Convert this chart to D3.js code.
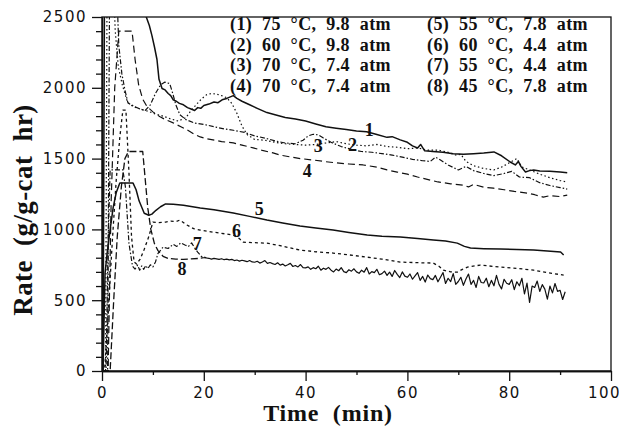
<!DOCTYPE html>
<html>
<head>
<meta charset="utf-8">
<script src="https://cdn.jsdelivr.net/npm/d3@7"></script>
<style>
  html, body { margin: 0; padding: 0; background: #fff; overflow: hidden; }
  svg { display: block; }
  .tick text { font-family: "DejaVu Sans", sans-serif; font-size: 15px; letter-spacing: 1.5px; fill: #111; }
  .tick line, .domain { stroke: #111; stroke-width: 1.3; }
  .serif { font-family: "Liberation Serif", "Times New Roman", serif; font-weight: 700; fill: #111; }
</style>
</head>
<body>
<svg id="chart"></svg>
<script>

/*************************************/
/*              Data                 */
/*************************************/
const xTicks = [0, 20, 40, 60, 80, 100];
const yTicks = [0, 500, 1000, 1500, 2000, 2500];

const legendLabels = [
  "(1)  75  °C,  9.8  atm", "(2)  60  °C,  9.8  atm",
  "(3)  70  °C,  7.4  atm", "(4)  70  °C,  7.4  atm",
  "(5)  55  °C,  7.8  atm", "(6)  60  °C,  4.4  atm",
  "(7)  55  °C,  4.4  atm", "(8)  45  °C,  7.8  atm"
];

// [time (min), rate]
const curve1 = [[0,0],[0.2,0],[0.5,2800],[8.2,2800],[8.7,2500],[9.3,2440],[9.8,2370],[10.3,2290],[10.8,2200],[11.2,2060],[11.8,1995],[12.4,1985],[13,1960],[13.5,1945],[14,1915],[14.6,1905],[15.2,1890],[16,1880],[16.8,1860],[17.5,1850],[18.2,1840],[18.8,1860],[19.4,1855],[20,1875],[21,1885],[22,1900],[22.8,1895],[23.6,1915],[24.5,1925],[25.8,1945],[26.5,1925],[27.5,1905],[29,1880],[30.5,1855],[32.4,1825],[34,1810],[36,1790],[38,1780],[40,1765],[42,1745],[44,1725],[46,1715],[48,1705],[50,1695],[52,1690],[54,1670],[56,1650],[57,1655],[58.6,1632],[60,1615],[61,1590],[62,1575],[62.6,1600],[63.4,1555],[65,1550],[67,1545],[69,1535],[71,1530],[73,1535],[75,1540],[77,1547],[78.5,1520],[80.2,1476],[81.2,1455],[81.8,1480],[82.3,1445],[83.2,1406],[84,1415],[84.8,1420],[86,1412],[88,1410],[90,1405],[91.4,1400]];

const curve2 = [[0,0],[0.7,0],[1.0,2800],[2.2,2800],[2.6,2400],[3.2,2150],[4,2020],[5,1900],[6,1870],[7.5,1850],[9,1835],[10.5,1815],[12,1800],[13.5,1780],[15,1765],[16.5,1790],[17.5,1840],[18.5,1880],[19.5,1920],[20.5,1950],[21.5,1960],[22.5,1955],[23.5,1945],[24.5,1930],[25.5,1890],[26.5,1820],[27.5,1730],[28.5,1670],[30,1635],[32,1630],[34,1615],[36,1605],[38,1600],[40,1595],[42,1600],[44,1610],[46,1620],[48,1605],[50,1595],[52,1590],[54,1600],[56,1585],[58,1580],[60,1570],[62,1575],[64,1560],[66,1560],[68,1545],[69.5,1525],[70.5,1530],[71.5,1480],[73,1450],[75,1430],[77,1420],[78.5,1440],[80,1470],[81.5,1500],[82.5,1440],[84,1420],[86,1390],[88,1365],[90,1345],[91.4,1335]];

const curve3 = [[0,0],[1.1,0],[1.5,2800],[2.8,2800],[3.3,2300],[3.9,2100],[4.5,1985],[5.1,1893],[6.5,1865],[7.5,1850],[8.5,1840],[9.5,1880],[10.5,1960],[11.5,2020],[12.3,2040],[13.3,2030],[13.9,1960],[14.5,1880],[15.3,1810],[16.5,1775],[18.3,1750],[20,1742],[22,1725],[24,1710],[25.8,1700],[28,1685],[30,1660],[32,1645],[34,1625],[36,1610],[38,1605],[39.5,1630],[40.5,1660],[41.5,1672],[42.5,1668],[43.5,1645],[45,1615],[47,1585],[49,1565],[51,1550],[53,1545],[55,1535],[57,1525],[59,1510],[61,1495],[63,1485],[64.5,1480],[65.5,1510],[66.5,1490],[68,1455],[70,1420],[71.5,1445],[73,1415],[75,1395],[77,1380],[79,1395],[80.5,1410],[82,1370],[84,1365],[86,1330],[88,1310],[90,1295],[91.4,1285]];

const curve4 = [[0,0],[1.2,0],[1.8,1200],[2.5,2000],[3.3,2400],[5.9,2400],[6.5,2200],[7.2,2020],[8,1920],[8.8,1870],[10,1830],[11.4,1795],[12.5,1775],[14,1752],[15.5,1725],[16.7,1703],[18,1675],[19.3,1653],[20.5,1640],[21.8,1632],[23.5,1620],[25.8,1611],[27.5,1595],[29.7,1576],[31.5,1558],[33.6,1540],[35,1525],[37,1512],[39,1500],[41.5,1490],[44,1478],[46,1470],[48.5,1462],[51.3,1455],[54,1440],[56,1420],[58,1405],[60,1390],[62,1370],[64.5,1348],[66,1335],[68.5,1322],[71,1312],[72,1300],[73,1318],[75,1298],[76.9,1291],[79,1280],[81,1268],[83.6,1256],[85,1245],[86.7,1228],[88,1238],[90,1232],[91.4,1242]];

const curve5 = [[0,0],[0.2,0],[0.6,690],[1.0,830],[1.6,1000],[2.2,1155],[2.8,1260],[3.5,1327],[6.1,1327],[6.7,1280],[7.3,1200],[8.3,1114],[9.2,1100],[9.8,1108],[10.6,1135],[11.5,1160],[12.5,1180],[14,1178],[16,1170],[19.3,1151],[22,1138],[25.8,1116],[29,1092],[32.4,1066],[35.5,1045],[38.9,1024],[42,1010],[45.4,995],[48.5,978],[52.1,960],[55,952],[58.6,946],[62,935],[65.1,925],[67.5,918],[69.8,903],[71.2,880],[72.4,868],[75,864],[78.3,861],[81.5,858],[84.8,854],[87.5,848],[90.1,840],[90.7,819]];

const curve6 = [[0,0],[0.5,0],[1.2,400],[2,900],[2.8,1350],[3.5,1650],[4.1,1843],[4.7,1843],[5.3,1400],[5.8,950],[6.3,770],[6.8,755],[7.5,790],[8.3,860],[9.2,950],[10,1052],[11,1048],[12.5,1052],[13.5,1058],[14.5,1055],[15.3,1066],[16.7,1031],[18,1005],[19.3,995],[21,985],[23,975],[25.8,960],[27,935],[27.7,910],[30,906],[32.4,903],[35,885],[38.9,854],[42,842],[45.4,833],[48.5,820],[52.1,804],[55,790],[58.6,769],[62,765],[65.1,762],[66.2,740],[67.1,712],[68.5,700],[69.8,698],[70.8,718],[71.8,734],[74.3,748],[76,742],[78.3,734],[81.5,725],[84.8,712],[87.5,695],[90.7,677]];

const curve7 = [[0,0],[0.8,0],[1.2,900],[1.6,1420],[4.1,1420],[4.6,1300],[5.3,900],[6,740],[6.5,720],[7,748],[7.4,712],[7.8,742],[8.2,718],[8.6,745],[9,722],[9.5,750],[10,735],[10.5,770],[11,830],[12,875],[13,865],[14,895],[14.7,880],[15.5,905],[16.3,890],[17,880],[17.6,905],[18.2,870],[18.8,840],[19.5,810],[20.5,800]];

const curve8Start = [[0,0],[1.6,0],[2.3,500],[3,950],[3.8,1300],[4.5,1500],[5.2,1550],[8,1550],[8.5,1350],[9,1150],[9.6,1000],[10.3,900],[11,850],[12,810],[13,795],[14.5,790],[16,788],[17.5,792],[19,795],[20,800]];

// noisy tail of curve 8, one reading every 0.5 min from 20 min
const curve8TailStart = 20;
const curve8TailStep = 0.5;
const curve8Tail = [
  800, 798, 796, 790, 795, 792, 788, 793, 786, 790,
  785, 788, 780, 784, 776, 782, 778, 772, 780, 770,
  768, 775, 762, 770, 780, 760, 766, 758, 752, 764,
  748, 755, 742, 750, 760, 738, 745, 735, 752, 730,
  728, 735, 718, 730, 722, 740, 712, 726, 718, 732,
  712, 700, 720, 708, 730, 702, 695, 715, 705, 722,
  700, 690, 712, 698, 730, 685, 702, 695, 718, 680,
  688, 705, 675, 698, 668, 710, 682, 660, 700, 670,
  662, 685, 648, 672, 695, 640, 668, 628, 678, 652,
  645, 675, 630, 662, 695, 618, 655, 632, 688, 612,
  632, 662, 605, 650, 685, 612, 640, 590, 668, 625,
  622, 655, 595, 640, 602, 675, 612, 580, 648, 620,
  612, 645, 575, 630, 602, 655, 545, 620, 485, 600,
  590, 635, 562, 610, 578, 508, 600, 552, 618, 562,
  570, 505, 560
];

// curve number labels placed at [time, rate]
const curveLabels = [
  ["1", 52.5, 1660], ["2", 49.2, 1554], ["3", 42.5, 1547], ["4", 40.3, 1370],
  ["5", 30.9, 1101], ["6", 26.4, 946], ["7", 18.7, 853], ["8", 15.7, 677]
];

/*************************************/
/*             Layout                */
/*************************************/
const width = 619;
const height = 431;
const margin = { top: 17, right: 8, bottom: 60, left: 102 };
const innerWidth = width - margin.left - margin.right;
const innerHeight = height - margin.top - margin.bottom;

const svg = d3.select("#chart")
  .attr("width", width)
  .attr("height", height);

const innerChart = svg.append("g")
  .attr("transform", `translate(${margin.left}, ${margin.top})`);

const xScale = d3.scaleLinear().domain([0, 100]).range([0, innerWidth]);
const yScale = d3.scaleLinear().domain([0, 2500]).range([innerHeight, 0]);

/*************************************/
/*              Axes                 */
/*************************************/
const xMinor = d3.range(10, 100, 20);
const yMinor = d3.range(0, 2501, 100).filter(v => v % 500 !== 0);

innerChart.append("g")
  .attr("transform", `translate(0, ${innerHeight})`)
  .call(d3.axisBottom(xScale).tickValues(xMinor).tickSize(4).tickSizeOuter(0).tickFormat(""));

innerChart.append("g")
  .call(d3.axisLeft(yScale).tickValues(yMinor).tickSize(6).tickSizeOuter(0).tickFormat(""));

const xAxis = innerChart.append("g")
  .attr("transform", `translate(0, ${innerHeight})`)
  .call(d3.axisBottom(xScale).tickValues(xTicks).tickSize(10).tickSizeOuter(0)
    .tickPadding(6).tickFormat(d3.format("d")));

// keep the last label inside the window, as in the original
xAxis.selectAll(".tick text").filter(d => d === 100).attr("x", -7);

innerChart.append("g")
  .call(d3.axisLeft(yScale).tickValues(yTicks).tickSize(10).tickSizeOuter(0)
    .tickPadding(5).tickFormat(d3.format("d")));

innerChart.append("rect")
  .attr("width", innerWidth)
  .attr("height", innerHeight)
  .attr("fill", "none")
  .attr("stroke", "#111")
  .attr("stroke-width", 1.3);

svg.append("text")
  .attr("class", "serif")
  .attr("x", 328)
  .attr("y", 421)
  .attr("text-anchor", "middle")
  .style("font-size", "24px")
  .style("letter-spacing", "0.8px")
  .style("white-space", "pre")
  .text("Time  (min)");

svg.append("text")
  .attr("class", "serif")
  .attr("transform", "translate(32, 210) rotate(-90)")
  .attr("text-anchor", "middle")
  .style("font-size", "27px")
  .style("letter-spacing", "0.4px")
  .style("white-space", "pre")
  .text("Rate  (g/g-cat  hr)");

/*************************************/
/*             Curves                */
/*************************************/
svg.append("defs").append("clipPath")
  .attr("id", "plot-clip")
  .append("rect")
    .attr("width", innerWidth)
    .attr("height", innerHeight);

const line = d3.line()
  .x(d => xScale(d[0]))
  .y(d => yScale(d[1]));

const curve8TailPoints = curve8Tail.map((v, i) => [curve8TailStart + i * curve8TailStep, v]);

const series = [
  { data: curve1, dash: null, w: 1.5 },
  { data: curve2, dash: "1.5,2.5", w: 1.2 },
  { data: curve3, dash: "5,2,1.5,2", w: 1.2 },
  { data: curve4, dash: "7,4", w: 1.2 },
  { data: curve5, dash: null, w: 1.5 },
  { data: curve6, dash: "3,3", w: 1.3 },
  { data: curve7, dash: "5,2,1.5,2", w: 1.2 },
  { data: curve8Start, dash: "7,3", w: 1.3 },
  { data: curve8TailPoints, dash: null, w: 1.2 }
];

innerChart.append("g")
  .attr("clip-path", "url(#plot-clip)")
  .selectAll(".rate-line")
  .data(series)
  .join("path")
    .attr("class", "rate-line")
    .attr("d", d => line(d.data))
    .attr("fill", "none")
    .attr("stroke", "#111")
    .attr("stroke-width", d => d.w)
    .attr("stroke-dasharray", d => d.dash)
    .attr("stroke-linejoin", "round");

innerChart.selectAll(".curve-label")
  .data(curveLabels)
  .join("text")
    .attr("class", "serif curve-label")
    .attr("x", d => xScale(d[1]))
    .attr("y", d => yScale(d[2]))
    .attr("text-anchor", "middle")
    .style("font-size", "18px")
    .text(d => d[0]);

/*************************************/
/*             Legend                */
/*************************************/
svg.append("g")
  .selectAll("text")
  .data(legendLabels)
  .join("text")
    .attr("class", "serif")
    .attr("x", (_, i) => i < 4 ? 230 : 427)
    .attr("y", (_, i) => 30 + (i % 4) * 20.5)
    .style("font-size", "18px")
    .style("letter-spacing", "0.4px")
    .style("white-space", "pre")
    .text(d => d);

</script>
</body>
</html>
